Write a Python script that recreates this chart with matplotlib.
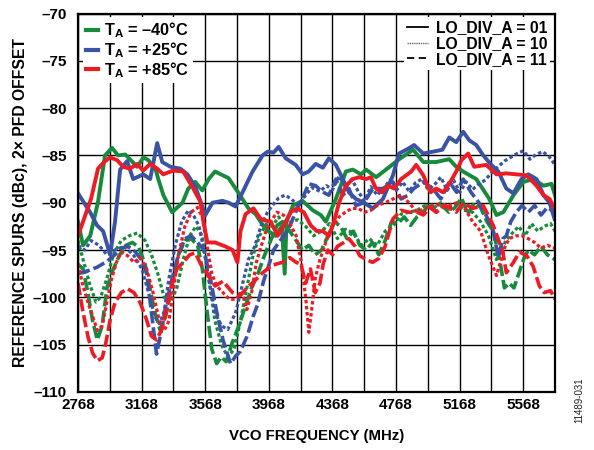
import numpy as np
import matplotlib.pyplot as plt
from matplotlib.lines import Line2D

plt.rcParams['font.family'] = ['Liberation Sans', 'DejaVu Sans']
plt.rcParams['font.weight'] = 'bold'
plt.rcParams['mathtext.fontset'] = 'custom'
plt.rcParams['mathtext.rm'] = 'Liberation Sans:bold'
plt.rcParams['mathtext.bf'] = 'Liberation Sans:bold'

# (VCO frequency MHz, spur dBc)
green_01 = [(2768, -92), (2800, -94.5), (2845, -93.5), (2893, -90), (2938, -85), (2982, -84.2),
            (3020, -85), (3065, -84.9), (3100, -85.5), (3140, -86.2), (3180, -85.2), (3210, -85.5),
            (3255, -86.4), (3273, -87.5), (3305, -89.2), (3360, -91), (3425, -90), (3462, -88.5),
            (3505, -87.8), (3550, -88.7), (3590, -87.5), (3630, -86.7), (3715, -87.4), (3775, -88.9),
            (3840, -90.6), (3885, -91.2), (3928, -92.3), (3965, -93), (4010, -93.5), (4050, -92.5),
            (4068, -97.5), (4080, -92), (4120, -90.3), (4180, -89.8), (4245, -90.8), (4295, -91.3),
            (4327, -92), (4390, -89.6), (4453, -86.7), (4497, -86.5), (4548, -87), (4580, -86.5),
            (4643, -87.3), (4705, -86.5), (4788, -85.4), (4876, -84.4), (4940, -85.7), (5020, -85.7),
            (5103, -85.4), (5147, -86.2), (5190, -86.7), (5273, -87.5), (5355, -89.6), (5400, -91.3),
            (5443, -91), (5507, -89.2), (5570, -87.8), (5633, -87.5), (5696, -88.2), (5746, -88),
            (5768, -89.2)]
green_10 = [(2768, -94), (2800, -96), (2840, -98.5), (2880, -100.5), (2910, -100), (2950, -98),
            (2990, -95.5), (3040, -94), (3090, -93.5), (3140, -93.2), (3190, -94), (3230, -95.5),
            (3270, -97.5), (3310, -100), (3350, -100.5), (3390, -99), (3430, -96), (3470, -93.5),
            (3510, -92.5), (3550, -93.5), (3590, -98), (3630, -102.5), (3670, -105), (3710, -106.3),
            (3750, -105.5), (3790, -102.5), (3830, -99), (3870, -95.5), (3910, -93.5), (3950, -92.3),
            (3990, -92.5), (4030, -91.5), (4070, -92.5), (4110, -92), (4150, -91.8), (4200, -92.5),
            (4250, -93.5), (4300, -93), (4350, -92.2), (4400, -93.8), (4450, -92.8), (4500, -93.2),
            (4550, -94.5), (4600, -93.8), (4650, -94.5), (4700, -93), (4750, -92.5), (4800, -91.2),
            (4850, -91), (4900, -90.8), (4950, -90.3), (5000, -90.6), (5050, -90), (5100, -90.5),
            (5150, -90.2), (5200, -90.8), (5250, -91), (5300, -92), (5350, -93.5), (5400, -96),
            (5430, -95), (5460, -94), (5500, -93.2), (5540, -92.5), (5580, -93.5), (5620, -92.2),
            (5660, -93), (5700, -92.5), (5740, -92.2), (5768, -93)]
green_11 = [(2768, -96.5), (2800, -97), (2830, -99.5), (2860, -102.5), (2890, -104.5), (2920, -103),
            (2950, -99), (2990, -97), (3030, -95.5), (3070, -94.5), (3110, -94.2), (3150, -94.7),
            (3190, -96.5), (3220, -99), (3250, -101.5), (3285, -103.5), (3320, -102), (3360, -98.5),
            (3400, -95.5), (3440, -94), (3480, -93.8), (3520, -94.5), (3550, -97), (3580, -101.5),
            (3610, -105.5), (3640, -107), (3670, -106.3), (3700, -106.8), (3740, -104.7), (3780, -103),
            (3820, -101), (3860, -99), (3900, -97.5), (3940, -95.6), (3980, -94), (4020, -92.4),
            (4055, -92), (4100, -93), (4140, -94), (4180, -95), (4220, -94.5), (4260, -95.5),
            (4300, -95), (4340, -93.5), (4380, -92), (4420, -92.5), (4460, -93.8), (4500, -93),
            (4540, -94.5), (4580, -95), (4620, -94.2), (4660, -95.5), (4700, -94), (4740, -92),
            (4780, -92.2), (4820, -91.5), (4860, -92.4), (4900, -91.5), (4940, -91), (4980, -90),
            (5020, -91), (5060, -90.3), (5100, -91), (5140, -90.5), (5180, -89.5), (5220, -91.2),
            (5260, -90), (5300, -90.5), (5340, -92), (5380, -93), (5420, -96), (5450, -99),
            (5480, -98.5), (5510, -99), (5540, -97.5), (5570, -96), (5600, -95), (5640, -95.5),
            (5680, -94.6), (5720, -95.5), (5768, -96)]

blue_01 = [(2768, -89), (2844, -91), (2888, -92.4), (2926, -93), (2970, -95.5), (3001, -92),
           (3033, -86.5), (3077, -85.6), (3115, -87.5), (3178, -87), (3222, -87.5), (3266, -83.7),
           (3298, -85.7), (3349, -86.2), (3412, -86.4), (3456, -87), (3506, -88.3), (3569, -91.3),
           (3614, -90), (3677, -89.8), (3715, -90), (3759, -90.4), (3803, -88.9), (3866, -86.7),
           (3929, -85), (3961, -84.6), (3998, -84.7), (4030, -84.1), (4074, -85.3), (4137, -86),
           (4181, -87), (4219, -86.7), (4263, -85.9), (4308, -86.3), (4346, -85.3), (4390, -86),
           (4434, -87.5), (4472, -88.9), (4516, -89.6), (4566, -90), (4623, -90.6), (4686, -89.6),
           (4749, -87.1), (4787, -84.8), (4844, -84.3), (4882, -83.9), (4939, -84.8), (5002, -84.6),
           (5060, -84.4), (5103, -83.1), (5147, -83.6), (5191, -82.5), (5229, -83.4), (5273, -83.9),
           (5317, -85), (5368, -86), (5412, -86.7), (5462, -88.5), (5507, -89), (5557, -87.5),
           (5601, -87), (5652, -87.5), (5696, -89.2), (5734, -90), (5765, -91.7)]
blue_10 = [(2768, -94.5), (2810, -95), (2850, -94), (2900, -94.5), (2950, -95.5), (3000, -95),
           (3060, -94.6), (3120, -95.6), (3170, -97), (3220, -100), (3250, -102), (3280, -102.8),
           (3310, -101.5), (3340, -98), (3380, -94.5), (3420, -92), (3462, -90.8), (3500, -91.5),
           (3530, -92.5), (3560, -95), (3590, -98), (3630, -101.6), (3670, -103), (3710, -103.4),
           (3760, -101.6), (3800, -98.8), (3840, -96), (3880, -94.6), (3920, -92.4), (3960, -91),
           (3990, -90.3), (4030, -89.5), (4070, -89.2), (4110, -89.6), (4150, -90.3), (4200, -89.2),
           (4240, -88.4), (4290, -88.8), (4330, -88.2), (4370, -88.6), (4410, -87.2), (4450, -88.3),
           (4490, -87.5), (4530, -88.8), (4570, -89.8), (4610, -88.3), (4650, -89.2), (4690, -88.5),
           (4730, -87.6), (4770, -88.7), (4810, -87.8), (4850, -88.8), (4890, -87.9), (4930, -87.5),
           (4970, -88.6), (5010, -88.1), (5050, -87.3), (5090, -88.7), (5130, -87.6), (5170, -88.9),
           (5210, -87.8), (5250, -88.6), (5290, -88), (5330, -87.6), (5370, -86.8), (5410, -86.2),
           (5450, -85.6), (5490, -85.2), (5530, -84.8), (5570, -84.5), (5610, -85.4), (5650, -84.9),
           (5690, -84.6), (5730, -85.1), (5768, -86)]
blue_11 = [(2768, -97.5), (2830, -97.2), (2890, -96.8), (2950, -96.2), (3000, -95.5), (3040, -94.8),
           (3080, -94.6), (3130, -95.2), (3165, -96), (3200, -97.4), (3230, -101.6), (3262, -106),
           (3290, -103.7), (3320, -100.9), (3360, -98), (3400, -95.5), (3440, -93.8), (3480, -93.5),
           (3520, -94.2), (3560, -95), (3600, -98), (3640, -101.5), (3680, -104.5), (3727, -107),
           (3760, -106.2), (3790, -105.7), (3834, -104), (3870, -102), (3897, -100.8), (3935, -98.3),
           (3970, -96.5), (3998, -95), (4040, -94), (4087, -93), (4137, -91), (4180, -89.5),
           (4220, -88), (4263, -88.2), (4300, -88.8), (4346, -89.2), (4390, -87.5), (4434, -89.2),
           (4472, -88.5), (4516, -90.3), (4566, -90), (4623, -88.5), (4686, -88.5), (4749, -87.8),
           (4800, -89.6), (4844, -89.2), (4880, -88.5), (4939, -87.8), (5000, -88.5), (5050, -89.6),
           (5103, -87.8), (5150, -88.9), (5191, -87.5), (5240, -88.9), (5290, -90), (5340, -91.5),
           (5380, -93), (5412, -95.8), (5440, -93.8), (5462, -93.5), (5490, -92), (5525, -91),
           (5560, -90.3), (5600, -91), (5640, -90.3), (5680, -91.3), (5720, -90.5), (5765, -91)]

red_01 = [(2768, -93.5), (2806, -91.7), (2850, -89.6), (2894, -86.4), (2932, -85.7), (2970, -85.2),
          (3014, -85.5), (3052, -86.2), (3096, -86.4), (3140, -85.9), (3178, -86.6), (3222, -85.9),
          (3266, -86.4), (3304, -87), (3367, -86.6), (3430, -86.7), (3493, -88.5), (3538, -89.9),
          (3557, -92), (3582, -94.2), (3630, -94.2), (3692, -94.6), (3740, -95), (3771, -96.3),
          (3790, -93), (3822, -91.2), (3872, -90.6), (3916, -91.7), (3948, -91.9), (3980, -92),
          (4024, -93.5), (4062, -92.4), (4106, -91), (4144, -90.6), (4188, -91), (4232, -92.4),
          (4270, -93), (4308, -93), (4346, -93.5), (4378, -92), (4410, -90), (4453, -88.2),
          (4497, -87.5), (4535, -87.3), (4580, -87.5), (4610, -87.3), (4642, -88.5), (4680, -88.9),
          (4718, -88.2), (4756, -88.5), (4800, -87.5), (4832, -87.1), (4864, -86.7), (4895, -86),
          (4940, -87.1), (4985, -88.9), (5021, -88.5), (5065, -88.9), (5103, -88), (5147, -86.7),
          (5180, -85.5), (5222, -84.8), (5260, -86.2), (5336, -86), (5400, -87), (5462, -86.9),
          (5525, -87), (5588, -87.1), (5652, -88.2), (5696, -89.2), (5734, -89.6), (5765, -90.6)]
red_10 = [(2768, -96.5), (2800, -98.8), (2830, -100.5), (2860, -102), (2890, -103.5), (2920, -103),
          (2950, -100.5), (2980, -98), (3010, -96.3), (3040, -95.2), (3080, -95.6), (3120, -96.3),
          (3160, -95.8), (3200, -97), (3240, -99.5), (3280, -102.5), (3310, -103.5), (3340, -102.5),
          (3370, -99), (3400, -95.5), (3440, -92.5), (3480, -91), (3520, -90.5), (3550, -91.5),
          (3580, -94.6), (3610, -97.5), (3640, -98.8), (3680, -99.5), (3720, -100.2), (3760, -100.2),
          (3800, -99.5), (3830, -101.3), (3860, -99.5), (3890, -96.3), (3920, -94.6), (3950, -93),
          (3980, -92), (4020, -91), (4060, -91.3), (4100, -92.2), (4140, -93.5), (4170, -96),
          (4200, -100), (4220, -103.7), (4240, -101), (4260, -98), (4290, -96), (4330, -94),
          (4370, -92.5), (4410, -91.5), (4450, -91), (4490, -90.6), (4530, -90.6), (4570, -91),
          (4610, -90.8), (4650, -90.3), (4700, -90), (4750, -89.6), (4800, -89.2), (4850, -90),
          (4900, -91), (4950, -90.6), (5000, -90.3), (5050, -90.2), (5100, -90.3), (5150, -90),
          (5200, -90.6), (5250, -92), (5300, -93), (5350, -95.6), (5400, -97.7), (5430, -96),
          (5455, -94.6), (5480, -93.8), (5520, -93.5), (5560, -93.5), (5600, -93.8), (5640, -94.2),
          (5680, -94.8), (5720, -94.5), (5768, -94.8)]
red_11 = [(2768, -98.5), (2800, -101.6), (2830, -104.1), (2860, -105.9), (2890, -106.7), (2920, -106.4),
          (2940, -105.1), (2970, -102.4), (3000, -100.6), (3040, -99.5), (3080, -99.1), (3120, -99.5),
          (3160, -100.6), (3200, -102.4), (3230, -104.1), (3262, -104.5), (3295, -103.4), (3325, -101.3),
          (3355, -98.8), (3390, -97), (3430, -96.3), (3470, -95.5), (3506, -95.3), (3540, -96.5),
          (3580, -97.5), (3630, -98.8), (3680, -98.3), (3740, -99.5), (3790, -99.8), (3830, -99),
          (3870, -98.4), (3930, -97.4), (3990, -96.6), (4055, -96.3), (4100, -95.8), (4140, -96.3),
          (4170, -96.5), (4200, -98.5), (4230, -97), (4260, -99.5), (4290, -98.5), (4310, -96.5),
          (4340, -95), (4370, -95.5), (4400, -94.6), (4440, -94.2), (4472, -93.8), (4510, -94.6),
          (4540, -95.6), (4580, -96), (4620, -96.3), (4660, -95.9), (4700, -94.6), (4749, -91.7),
          (4800, -90.8), (4850, -91), (4900, -91), (4940, -91.3), (4980, -90.5), (5021, -91),
          (5080, -90.3), (5147, -91), (5191, -90), (5250, -90.6), (5317, -90.3), (5380, -92.4),
          (5440, -95.2), (5462, -97.4), (5507, -96.3), (5545, -95.2), (5590, -95.6), (5630, -96.7),
          (5670, -98.8), (5700, -99.5), (5740, -99.3), (5768, -100.2)]

temps = ['\u201340', '+25', '+85']
colors = ['#178a3c', '#3a53a4', '#ed1c24']
div_labels = ['LO_DIV_A = 01', 'LO_DIV_A = 10', 'LO_DIV_A = 11']
x_ticks = np.arange(2768, 5769, 200)
y_ticks = np.arange(-110, -69, 5)

series = [
    (green_01, 0, 0), (green_10, 0, 1), (green_11, 0, 2),
    (blue_01, 1, 0), (blue_10, 1, 1), (blue_11, 1, 2),
    (red_01, 2, 0), (red_10, 2, 1), (red_11, 2, 2),
]
line_styles = ['-', (0, (1.1, 0.8)), (0, (3.4, 1.1))]
line_widths = [2.8, 2.3, 2.6]

fig = plt.figure(figsize=(5.94, 4.5), dpi=100)
ax = fig.add_axes([0.1313, 0.129, 0.803, 0.841])

for data, ci, si in series:
    arr = np.array(data)
    ax.plot(arr[:, 0], arr[:, 1], color=colors[ci], lw=line_widths[si],
            linestyle=line_styles[si], solid_joinstyle='round', dash_capstyle='butt')

ax.set_xlim(2768, 5768)
ax.set_ylim(-110, -70)
ax.set_xticks(x_ticks)
ax.set_xticklabels([str(v) if (v - 2768) % 400 == 0 and v < 5768 else '' for v in x_ticks])
ax.set_yticks(y_ticks)
ax.set_yticklabels([str(v).replace('-', '\u2013') for v in y_ticks])
ax.tick_params(length=0, labelsize=11)
ax.tick_params(axis='y', pad=8)
ax.tick_params(axis='x', pad=4)
ax.grid(True, color='black', lw=1.0)
ax.set_axisbelow(True)
for sp in ax.spines.values():
    sp.set_linewidth(1.6)

ax.set_xlabel('VCO FREQUENCY (MHz)', fontsize=10.8, fontweight='bold')
ax.xaxis.set_label_coords(0.5, -0.098)
ax.set_ylabel('REFERENCE SPURS (dBc), 2\u00d7 PFD OFFSET', fontsize=11.3, fontweight='bold')
ax.yaxis.set_label_coords(-0.104, 0.5)

temp_handles = [Line2D([], [], color=c, lw=3) for c in colors]
leg1 = ax.legend(temp_handles, [r'$\mathbf{T_A}$ = ' + t + '\u00b0C' for t in temps],
                 loc='upper left', bbox_to_anchor=(0.01, 0.99), frameon=True, framealpha=1,
                 edgecolor='none', fancybox=False, handlelength=0.75, handletextpad=0.35,
                 labelspacing=0.0, borderpad=0.2, borderaxespad=0,
                 prop=dict(weight='bold', size=11.8))
leg1.get_frame().set_linewidth(0)
ax.add_artist(leg1)

div_handles = [Line2D([], [], color='black', lw=1.3),
               Line2D([], [], color='#666666', lw=1.0, linestyle=(0, (1, 0.6))),
               Line2D([], [], color='black', lw=1.3, linestyle=(0, (4, 2.5)))]
leg2 = ax.legend(div_handles, div_labels, loc='upper right', bbox_to_anchor=(0.99, 0.99),
                 frameon=True, framealpha=1, edgecolor='none', fancybox=False,
                 handlelength=1.3, handletextpad=0.5, labelspacing=0.05, borderpad=0.2,
                 borderaxespad=0, prop=dict(weight='bold', size=11.3))
leg2.get_frame().set_linewidth(0)

fig.text(0.975, 0.11, '11489-031', rotation=90, fontsize=7, fontweight='normal',
         ha='center', va='center', color='#222222')

fig.savefig('out.png', dpi=100)
